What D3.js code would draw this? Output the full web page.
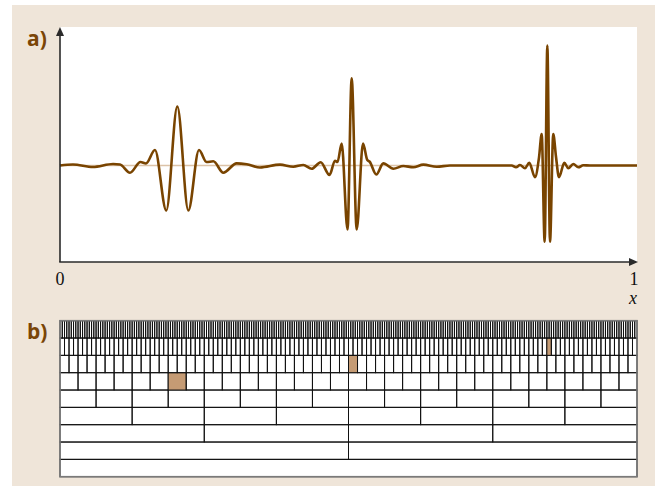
<!DOCTYPE html>
<html>
<head>
<meta charset="utf-8">
<script src="https://cdn.jsdelivr.net/npm/d3@7/dist/d3.min.js"></script>
<style>
  html, body { margin: 0; padding: 0; background: #ffffff; }
  svg { display: block; }
</style>
</head>
<body>
<svg id="chart" width="663" height="488"></svg>
<script>
// Signal: three wavelet packets of increasing frequency along x in [0, 1]
const signalX = [0, 0.0225, 0.057, 0.092, 0.104, 0.1213, 0.1395, 0.149, 0.1646, 0.1842,
  0.2033, 0.2224, 0.2409, 0.2539, 0.2657, 0.283, 0.3062, 0.3236, 0.3466, 0.3813,
  0.4043, 0.4217, 0.4362, 0.4518, 0.4671, 0.4766, 0.4809, 0.4882, 0.4983, 0.5055,
  0.5142, 0.5251, 0.5326, 0.5364, 0.5482, 0.5603, 0.5777, 0.595, 0.6123, 0.6297,
  0.6529, 0.6759, 0.7828, 0.7903, 0.7972, 0.8059, 0.8133, 0.8232, 0.8302, 0.8348,
  0.840, 0.8446, 0.8492, 0.8549, 0.8596, 0.8648, 0.874, 0.8809, 0.8896, 0.8983,
  0.9069, 0.9185, 1];
const signalY = [0, 0.008, -0.0125, 0.0125, 0.008, -0.06, 0.029, 0.017, 0.129, -0.375,
  0.492, -0.375, 0.129, 0.029, 0.035, -0.06, 0.018, 0.01, -0.017, 0.007,
  -0.01, 0.004, -0.027, 0.027, -0.079, 0.04, 0.029, 0.182, -0.533, 0.727,
  -0.533, 0.182, 0.046, 0.033, -0.075, 0.018, -0.027, -0.004, -0.015, 0.007,
  -0.01, 0, 0, -0.015, 0.004, -0.023, 0.023, -0.098, 0.068, 0.2625,
  -0.635, 1.0, -0.635, 0.2625, 0.073, -0.098, 0.023, -0.023, 0.0125, -0.015,
  0.002, 0, 0];

// Dyadic tiling: level j splits [0, 1] into 2^j cells
const levels = [0, 1, 2, 3, 4, 5, 6, 7, 8];
// Highlighted cells (level, index)
const markedLevel = [5, 6, 7];
const markedIndex = [6, 32, 108];

const axisTicks = [0, 1];
const axisTickLabels = ["0", "1"];

const svg = d3.select("#chart");

// Page background panel
svg.append("rect").attr("x", 12).attr("y", 5).attr("width", 643).attr("height", 481)
  .attr("fill", "#efe5d9");

// ---------- panel a ----------
const x = d3.scaleLinear().domain([0, 1]).range([60, 637]);
const y = d3.scaleLinear().domain([-1, 1]).range([285.5, 45.5]);
const axisY = 262;

svg.append("rect").attr("x", x(0)).attr("y", 27)
  .attr("width", x(1) - x(0)).attr("height", axisY - 27).attr("fill", "#ffffff");

// zero line
svg.append("line").attr("x1", x(0)).attr("x2", x(1))
  .attr("y1", y(0)).attr("y2", y(0))
  .attr("stroke", "#dcc3a8").attr("stroke-width", 1.6);

const pts = signalX.map((v, i) => [v, signalY[i]]);
const line = d3.line().x(d => x(d[0])).y(d => y(d[1])).curve(d3.curveMonotoneX);
svg.append("path").datum(pts).attr("d", line)
  .attr("fill", "none").attr("stroke", "#794400").attr("stroke-width", 2.6)
  .attr("stroke-linejoin", "round");

// axes with arrow heads
const axisColor = "#2a2a2a";
svg.append("line").attr("x1", x(0)).attr("x2", x(0)).attr("y1", axisY).attr("y2", 33)
  .attr("stroke", axisColor).attr("stroke-width", 1.6);
svg.append("path").attr("d", `M${x(0)},27 L${x(0) - 4},36 L${x(0) + 4},36 Z`).attr("fill", axisColor);
svg.append("line").attr("x1", x(0) - 0.8).attr("x2", x(1) - 4).attr("y1", axisY).attr("y2", axisY)
  .attr("stroke", axisColor).attr("stroke-width", 1.6);
svg.append("path").attr("d", `M${x(1) + 1},${axisY} L${x(1) - 8},${axisY - 4} L${x(1) - 8},${axisY + 4} Z`).attr("fill", axisColor);

svg.selectAll("text.tick").data(axisTicks).enter().append("text")
  .attr("class", "tick")
  .attr("x", (d) => d === 1 ? x(d) - 3 : x(d))
  .attr("y", 285)
  .attr("text-anchor", "middle")
  .attr("font-family", "Liberation Serif, Times New Roman, serif")
  .attr("font-size", 18).attr("fill", "#111")
  .text((d, i) => axisTickLabels[i]);

svg.append("text").attr("x", x(1) - 4).attr("y", 304)
  .attr("text-anchor", "middle")
  .attr("font-family", "Liberation Serif, Times New Roman, serif")
  .attr("font-style", "italic").attr("font-size", 18).attr("fill", "#111")
  .text("x");

// panel labels
const labelStyle = sel => sel.attr("font-family", "Open Sans, DejaVu Sans, sans-serif")
  .attr("font-weight", "bold").attr("font-size", 21).attr("fill", "#7a4507");
svg.append("text").attr("x", 27).attr("y", 46).text("a)").call(labelStyle);
svg.append("text").attr("x", 27).attr("y", 339).text("b)").call(labelStyle);

// ---------- panel b ----------
const row = d3.scaleBand().domain(levels.slice().reverse()).range([320.7, 476.7]);

const cells = [];
levels.forEach(j => {
  const n = Math.pow(2, j);
  for (let k = 0; k < n; k++) {
    let marked = false;
    markedLevel.forEach((l, m) => { if (l === j && markedIndex[m] === k) marked = true; });
    cells.push({ j, x0: k / n, x1: (k + 1) / n, marked });
  }
});

const gb = svg.append("g");
gb.append("rect").attr("x", x(0)).attr("y", row.range()[0])
  .attr("width", x(1) - x(0)).attr("height", row.range()[1] - row.range()[0])
  .attr("fill", "#ffffff");

gb.selectAll("rect.cell").data(cells).enter().append("rect")
  .attr("class", "cell")
  .attr("x", d => x(d.x0)).attr("y", d => row(d.j))
  .attr("width", d => x(d.x1) - x(d.x0)).attr("height", row.bandwidth())
  .attr("fill", d => d.marked ? "#c59b74" : "none")
  .attr("stroke", "#111").attr("stroke-width", 1);

gb.append("rect").attr("x", x(0)).attr("y", row.range()[0])
  .attr("width", x(1) - x(0)).attr("height", row.range()[1] - row.range()[0])
  .attr("fill", "none").attr("stroke", "#7a7a7a").attr("stroke-width", 1.6);
</script>
</body>
</html>
